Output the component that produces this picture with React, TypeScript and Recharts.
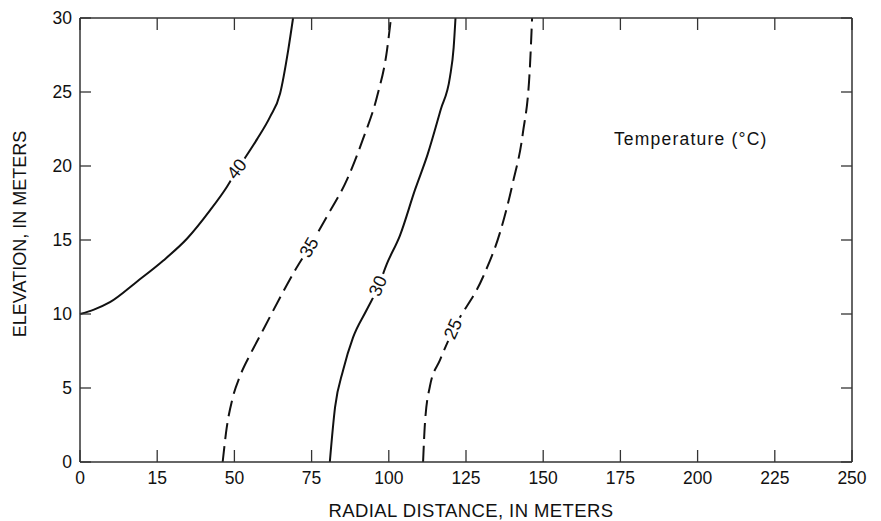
import { LineChart, Line, XAxis, YAxis, ReferenceDot } from 'recharts';

// isotherms: x = radial distance (m), y = elevation (m)
const iso40 = [
  { x: 0, y: 10.0 }, { x: 4.5, y: 10.3 }, { x: 9.7, y: 10.8 }, { x: 18.5, y: 12.2 },
  { x: 26.9, y: 13.6 }, { x: 34.7, y: 15.1 }, { x: 42.1, y: 17.0 }, { x: 47.6, y: 18.6 },
  { x: 50.8, y: 19.7 }, { x: 57.3, y: 21.8 }, { x: 61.5, y: 23.3 }, { x: 64.8, y: 24.9 },
  { x: 67.4, y: 27.8 }, { x: 69.0, y: 30 },
];
const iso35 = [
  { x: 46.2, y: 0 }, { x: 47.5, y: 2.3 }, { x: 49.4, y: 4.3 }, { x: 51.8, y: 5.8 },
  { x: 55.2, y: 7.3 }, { x: 59.5, y: 9.0 }, { x: 64.5, y: 11.0 }, { x: 69.5, y: 12.9 },
  { x: 74.5, y: 14.6 }, { x: 80.0, y: 16.6 }, { x: 86.5, y: 19.1 }, { x: 91.6, y: 21.8 },
  { x: 96.2, y: 24.7 }, { x: 99.4, y: 27.8 }, { x: 100.7, y: 30 },
];
const iso30 = [
  { x: 80.9, y: 0 }, { x: 82.6, y: 3.7 }, { x: 85.2, y: 6.2 }, { x: 88.4, y: 8.4 },
  { x: 92.9, y: 10.3 }, { x: 96.5, y: 11.8 }, { x: 99.4, y: 13.4 }, { x: 103.6, y: 15.3 },
  { x: 108.5, y: 18.4 }, { x: 112.6, y: 20.8 }, { x: 116.8, y: 23.8 }, { x: 119.8, y: 26.0 },
  { x: 121.0, y: 28.0 }, { x: 121.6, y: 30 },
];
const iso25 = [
  { x: 111.1, y: 0 }, { x: 111.7, y: 2.6 }, { x: 113.3, y: 5.1 }, { x: 116.6, y: 6.9 },
  { x: 120.8, y: 8.9 }, { x: 130.5, y: 12.5 }, { x: 136.0, y: 15.5 }, { x: 140.2, y: 18.9 },
  { x: 143.4, y: 22.2 }, { x: 145.7, y: 26.7 }, { x: 146.4, y: 30 },
];

// contour labels (position on the line + text angle)
const contourTags = [
  { x: 50.8, y: 19.8, text: '40', angle: -52 },
  { x: 74.2, y: 14.5, text: '35', angle: -60 },
  { x: 96.5, y: 11.9, text: '30', angle: -67 },
  { x: 120.8, y: 9.0, text: '25', angle: -66 },
];

const xTicks = [0, 25, 50, 75, 100, 125, 150, 175, 200, 225, 250];
const xTickLabels = ['0', '15', '50', '75', '100', '125', '150', '175', '200', '225', '250'];
const yTicks = [0, 5, 10, 15, 20, 25, 30];
const X_DOMAIN = [0, 250];
const Y_DOMAIN = [0, 30];

const FONT = '"Liberation Sans", Arial, Helvetica, sans-serif';
const AXIS = '#333';
const INK = '#111';

const tickText = { fontSize: 17.5, fontFamily: FONT, fill: INK };
const frame = { stroke: AXIS, strokeWidth: 1.5 };

// short tick mark pointing into the plot; dx/dy give the direction in px
const InwardTick = (p: any) => {
  const { cx, cy, dx, dy } = p;
  if (cx == null || cy == null) return null;
  return <line x1={cx} y1={cy} x2={cx + dx} y2={cy + dy} stroke={AXIS} strokeWidth={1.3} />;
};

const ContourTag = (p: any) => {
  const { cx, cy, text, angle } = p;
  if (cx == null || cy == null) return null;
  return (
    <g transform={`translate(${cx},${cy}) rotate(${angle})`}>
      <rect x={-13} y={-8} width={26} height={16} fill="#fff" />
      <text textAnchor="middle" dominantBaseline="central" fontSize={18} fontFamily={FONT} fill={INK}>
        {text}
      </text>
    </g>
  );
};

const XTitle = (p: any) => {
  const { viewBox } = p;
  return (
    <text
      x={viewBox.x + viewBox.width / 2 + 5}
      y={viewBox.y + 55}
      textAnchor="middle"
      fontSize={18.5}
      letterSpacing={0.4}
      fontFamily={FONT}
      fill={INK}
    >
      RADIAL DISTANCE, IN METERS
    </text>
  );
};

const YTitle = (p: any) => {
  const { viewBox } = p;
  const bx = 18;
  const cy = viewBox.y + viewBox.height / 2 - 6;
  return (
    <text
      x={bx}
      y={cy}
      transform={`rotate(-90, ${bx}, ${cy})`}
      textAnchor="middle"
      fontSize={18}
      fontFamily={FONT}
      fill={INK}
    >
      ELEVATION, IN METERS
    </text>
  );
};

export default function App() {
  return (
    <LineChart width={865} height={513} margin={{ top: 9, right: 20, left: 0, bottom: 0 }}>
      <XAxis
        dataKey="x"
        type="number"
        domain={X_DOMAIN}
        ticks={xTicks}
        interval={0}
        height={59}
        tickSize={0}
        tickMargin={10}
        tickLine={false}
        tick={tickText}
        tickFormatter={(v: number) => xTickLabels[xTicks.indexOf(v)] ?? String(v)}
        axisLine={frame}
        label={<XTitle />}
      />
      <XAxis
        xAxisId="top"
        orientation="top"
        dataKey="x"
        type="number"
        domain={X_DOMAIN}
        height={1}
        tick={false}
        tickLine={false}
        axisLine={frame}
      />
      <YAxis
        type="number"
        domain={Y_DOMAIN}
        ticks={yTicks}
        interval={0}
        width={72}
        tickSize={0}
        tickMargin={8}
        tickLine={false}
        tick={tickText}
        axisLine={frame}
        label={<YTitle />}
      />
      <YAxis
        yAxisId="right"
        orientation="right"
        type="number"
        domain={Y_DOMAIN}
        width={1}
        tick={false}
        tickLine={false}
        axisLine={frame}
      />
      <Line data={iso40} dataKey="y" type="monotone" stroke={INK} strokeWidth={2} dot={false} isAnimationActive={false} />
      <Line data={iso35} dataKey="y" type="monotone" stroke={INK} strokeWidth={2} strokeDasharray="16 7" dot={false} isAnimationActive={false} />
      <Line data={iso30} dataKey="y" type="monotone" stroke={INK} strokeWidth={2} dot={false} isAnimationActive={false} />
      <Line data={iso25} dataKey="y" type="monotone" stroke={INK} strokeWidth={2} strokeDasharray="16 7" dot={false} isAnimationActive={false} />

      {/* inward tick marks on all four sides of the frame */}
      {xTicks.map((v) => (
        <ReferenceDot key={`b${v}`} x={v} y={Y_DOMAIN[0]} r={0} ifOverflow="visible"
          shape={(props: any) => <InwardTick {...props} dx={0} dy={-12} />} />
      ))}
      {xTicks.map((v) => (
        <ReferenceDot key={`t${v}`} x={v} y={Y_DOMAIN[1]} r={0} ifOverflow="visible"
          shape={(props: any) => <InwardTick {...props} dx={0} dy={12} />} />
      ))}
      {yTicks.map((v) => (
        <ReferenceDot key={`l${v}`} x={X_DOMAIN[0]} y={v} r={0} ifOverflow="visible"
          shape={(props: any) => <InwardTick {...props} dx={11} dy={0} />} />
      ))}
      {yTicks.map((v) => (
        <ReferenceDot key={`r${v}`} x={X_DOMAIN[1]} y={v} r={0} ifOverflow="visible"
          shape={(props: any) => <InwardTick {...props} dx={-11} dy={0} />} />
      ))}

      {contourTags.map((t) => (
        <ReferenceDot
          key={t.text}
          x={t.x}
          y={t.y}
          r={0}
          shape={(props: any) => <ContourTag {...props} text={t.text} angle={t.angle} />}
        />
      ))}
      <ReferenceDot
        x={172.9}
        y={21.4}
        r={0}
        shape={(props: any) => (
          <text x={props.cx} y={props.cy} fontSize={17.5} letterSpacing={1.2} fontFamily={FONT} fill={INK}>
            Temperature (°C)
          </text>
        )}
      />
    </LineChart>
  );
}
